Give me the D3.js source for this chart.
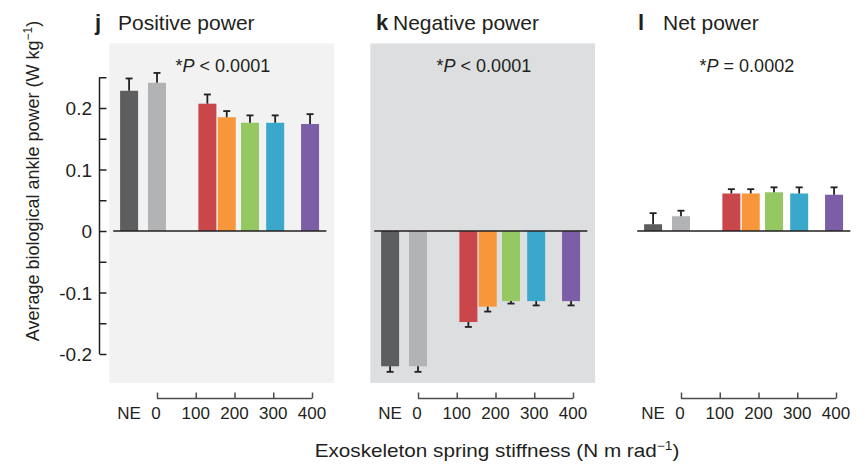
<!DOCTYPE html>
<html>
<head>
<meta charset="utf-8">
<script src="https://cdn.jsdelivr.net/npm/d3@7"></script>
<style>
  body { margin: 0; background: #fff; }
  svg { display: block; font-family: "Liberation Sans", Arial, sans-serif; }
  .panel-title { font-size: 21px; fill: #231f20; }
  .panel-letter { font-size: 22px; font-weight: bold; fill: #231f20; }
  .pval { font-size: 18px; fill: #231f20; }
  .tick-label { font-size: 17px; fill: #231f20; }
  .ytick-label { font-size: 19px; fill: #231f20; }
  .axis-title { font-size: 18px; fill: #231f20; }
</style>
</head>
<body>
<svg id="chart" width="865" height="467"></svg>
<script>
// conditions: no exoskeleton, then springs of increasing stiffness
var conditions = ["NE", "0", "k1", "k2", "k3", "k4", "k5"];
// position along the stiffness axis (N m rad-1); NE sits left of the axis
var stiffness = [-72, 0, 130, 180, 240, 305, 395];
var barColors = ["#5d5e60", "#b2b3b5", "#c9474a", "#f7963a", "#95c863", "#3aa8cb", "#7c5ea6"];

var positiveMean = [0.228, 0.241, 0.207, 0.185, 0.176, 0.176, 0.174];
var positiveErr = [0.020, 0.016, 0.015, 0.010, 0.012, 0.012, 0.016];
var negativeMean = [-0.220, -0.220, -0.148, -0.123, -0.114, -0.114, -0.114];
var negativeErr = [0.009, 0.009, 0.008, 0.008, 0.004, 0.007, 0.007];
var netMean = [0.011, 0.024, 0.061, 0.061, 0.063, 0.061, 0.059];
var netErr = [0.018, 0.009, 0.007, 0.007, 0.008, 0.010, 0.012];

var panelLetters = ["j", "k", "l"];
var panelTitles = ["Positive power", "Negative power", "Net power"];
var panelStats = [["<", "0.0001"], ["<", "0.0001"], ["=", "0.0002"]];
var panelBackgrounds = ["#f2f2f2", "#dcdee0", null];

var xTicks = [0, 100, 200, 300, 400];
var yTicks = [0.25, 0.2, 0.15, 0.1, 0.05, 0, -0.05, -0.1, -0.15, -0.2];
var yTickLabels = {"0.2": "0.2", "0.1": "0.1", "0": "0", "-0.1": "-0.1", "-0.2": "-0.2"};

var panels = [
    {mean: positiveMean, err: positiveErr},
    {mean: negativeMean, err: negativeErr},
    {mean: netMean, err: netErr},
];

var svg = d3.select("#chart");
var y = d3.scaleLinear().domain([-0.2, 0.25]).range([354, 77.25]);
var panelLeft = [157, 418, 681];
var letterX = [95, 376, 638];
var titleX = [118, 393, 663];
var barWidth = 18;

panels.forEach(function(p, i) {
    var x = d3.scaleLinear().domain([0, 400]).range([panelLeft[i], panelLeft[i] + 155]);
    var g = svg.append("g").attr("class", "panel panel-" + panelLetters[i]);

    if (panelBackgrounds[i]) {
        g.append("rect")
            .attr("x", x(-123)).attr("width", x(457) - x(-123))
            .attr("y", y(0.305)).attr("height", y(-0.247) - y(0.305))
            .attr("fill", panelBackgrounds[i]);
    }

    g.append("text").attr("class", "panel-letter")
        .attr("x", letterX[i]).attr("y", 30).text(panelLetters[i]);
    g.append("text").attr("class", "panel-title")
        .attr("x", titleX[i]).attr("y", 30).text(panelTitles[i]);

    var stat = g.append("text").attr("class", "pval")
        .attr("x", x(170)).attr("y", 72).attr("text-anchor", "middle");
    stat.append("tspan").text("*");
    stat.append("tspan").attr("font-style", "italic").text("P");
    stat.append("tspan").text(" " + panelStats[i][0] + " " + panelStats[i][1]);

    var rows = conditions.map(function(c, j) {
        return {cond: c, pos: stiffness[j], v: p.mean[j], e: p.err[j], color: barColors[j]};
    });

    g.selectAll("rect.bar").data(rows).enter().append("rect")
        .attr("class", "bar")
        .attr("x", function(d) { return x(d.pos) - barWidth / 2; })
        .attr("width", barWidth)
        .attr("y", function(d) { return y(Math.max(0, d.v)); })
        .attr("height", function(d) { return Math.abs(y(d.v) - y(0)); })
        .attr("fill", function(d) { return d.color; });

    // one-sided error bars, pointing away from zero
    function tip(d) { return y(d.v + (d.v < 0 ? -d.e : d.e)); }
    var errG = g.selectAll("g.err").data(rows).enter().append("g").attr("class", "err");
    errG.append("line")
        .attr("x1", function(d) { return x(d.pos); })
        .attr("x2", function(d) { return x(d.pos); })
        .attr("y1", function(d) { return y(d.v); })
        .attr("y2", tip)
        .attr("stroke", "#231f20").attr("stroke-width", 1.8);
    errG.append("line")
        .attr("x1", function(d) { return x(d.pos) - 3.5; })
        .attr("x2", function(d) { return x(d.pos) + 3.5; })
        .attr("y1", tip)
        .attr("y2", tip)
        .attr("stroke", "#231f20").attr("stroke-width", 1.8);

    // zero line
    g.append("line")
        .attr("x1", x(-113)).attr("x2", x(437))
        .attr("y1", y(0)).attr("y2", y(0))
        .attr("stroke", "#231f20").attr("stroke-width", 1.5);

    // stiffness axis, ticks pointing up
    var xAxis = d3.axisTop(x).tickValues(xTicks).tickSize(6).tickFormat("");
    var ax = g.append("g").attr("transform", "translate(0,398.5)").call(xAxis);
    ax.select(".domain").attr("d", "M" + x(0) + ",0H" + x(400))
        .attr("stroke", "#4d4d4f").attr("stroke-width", 1.5);
    ax.selectAll(".tick line").attr("stroke", "#4d4d4f").attr("stroke-width", 1.5);

    var labels = [{t: "NE", pos: stiffness[0]}].concat(xTicks.map(function(t) {
        return {t: String(t), pos: t};
    }));
    g.selectAll("text.tick-label").data(labels).enter().append("text")
        .attr("class", "tick-label")
        .attr("x", function(d) { return x(d.pos) + (d.t == "0" ? -1 : 0); })
        .attr("y", 419)
        .attr("text-anchor", "middle")
        .text(function(d) { return d.t; });
});

// y axis on the first panel only, ticks pointing inward
var yAxis = d3.axisRight(y).tickValues(yTicks).tickSize(7).tickFormat("");
var yax = svg.append("g").attr("transform", "translate(99.5,0)").call(yAxis);
yax.select(".domain").attr("d", "M0," + y(0.25) + "V" + y(-0.2))
    .attr("stroke", "#231f20").attr("stroke-width", 1.5);
yax.selectAll(".tick line").attr("stroke", "#231f20").attr("stroke-width", 1.5);

svg.selectAll("text.ytick-label")
    .data(yTicks.filter(function(t) { return yTickLabels[String(t)] !== undefined; }))
    .enter().append("text")
    .attr("class", "ytick-label")
    .attr("x", 92)
    .attr("y", function(d) { return y(d) + 7; })
    .attr("text-anchor", "end")
    .text(function(d) { return yTickLabels[String(d)]; });

var yTitle = svg.append("text").attr("class", "axis-title")
    .attr("text-anchor", "middle")
    .attr("transform", "translate(39,181) rotate(-90)");
yTitle.append("tspan").text("Average biological ankle power (W kg");
yTitle.append("tspan").attr("font-size", "12px").attr("dy", -7).text("\u22121");
yTitle.append("tspan").attr("dy", 7).text(")");

// the x title is set a little wider than its height, as in the figure
var xTitle = svg.append("text").attr("class", "axis-title")
    .attr("text-anchor", "middle")
    .attr("transform", "translate(497,457) scale(1.15,1)");
xTitle.append("tspan").text("Exoskeleton spring stiffness (N m rad");
xTitle.append("tspan").attr("font-size", "12px").attr("dy", -7).text("\u22121");
xTitle.append("tspan").attr("dy", 7).text(")");
</script>
</body>
</html>
